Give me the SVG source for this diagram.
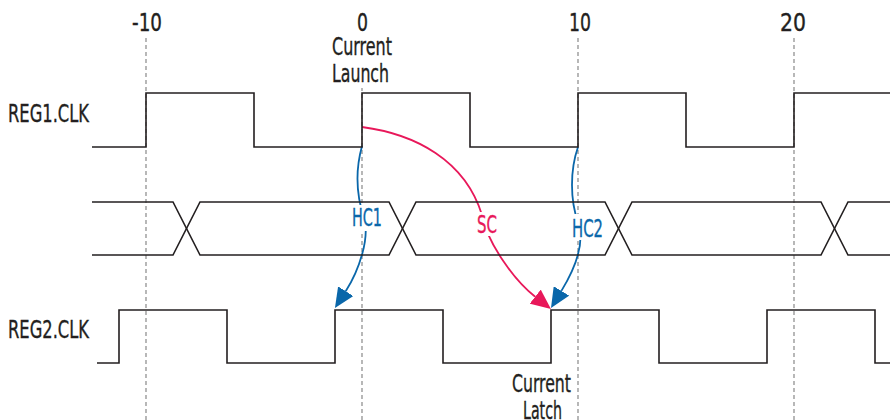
<svg xmlns="http://www.w3.org/2000/svg" width="890" height="420" viewBox="0 0 890 420">
<defs>
<style>
.grid{stroke:#9a9a9a;stroke-width:1.4;stroke-dasharray:4 3;fill:none}
.wave{stroke:#231f20;stroke-width:1.6;fill:none;stroke-linejoin:miter}
.hc{stroke:#0a67aa;stroke-width:1.8;fill:none}
.sc{stroke:#e8185a;stroke-width:1.8;fill:none}
.mask{fill:#ffffff}
text{font-family:"Liberation Sans Narrow","DejaVu Sans Condensed","Liberation Sans",sans-serif;font-size:25px;fill:#231f20;stroke:#231f20;stroke-width:0.35}
.tb{fill:#0a67aa;stroke:#0a67aa}
.tr{fill:#e8185a;stroke:#e8185a}
</style>
<marker id="ab" viewBox="0 0 20 18" markerWidth="20" markerHeight="18" refX="0" refY="9" orient="auto" markerUnits="userSpaceOnUse">
<path d="M0,0 L20,9 L0,18 z" fill="#0a67aa"/>
</marker>
<marker id="ar" viewBox="0 0 20 18" markerWidth="20" markerHeight="18" refX="0" refY="9" orient="auto" markerUnits="userSpaceOnUse">
<path d="M0,0 L20,9 L0,18 z" fill="#e8185a"/>
</marker>
</defs>
<rect width="890" height="420" fill="#ffffff"/>
<g id="gridlines">
<line class="grid" x1="146" y1="38" x2="146" y2="420"/>
<line class="grid" x1="362" y1="38" x2="362" y2="420"/>
<line class="grid" x1="578" y1="38" x2="578" y2="420"/>
<line class="grid" x1="794" y1="38" x2="794" y2="420"/>
</g>
<g id="connectors">
<path id="hc1" class="hc" d="M362,146 C354,175 358,200 364,218 C370,238 359.1,270.2 345.7,291.2" marker-end="url(#ab)"/>
<path id="sc" class="sc" d="M362,127 C415,134 465,160 482,215 C488,245 515.5,281.3 535.2,296.7" marker-end="url(#ar)"/>
<path id="hc2" class="hc" d="M578,147 C570,170 570,200 578,222 C586,244 574.4,269.5 561.4,290.9" marker-end="url(#ab)"/>
</g>
<g id="masks">
<rect class="mask" x="329" y="34" width="66" height="54"/>
<rect class="mask" x="349" y="205" width="36" height="26"/>
<rect class="mask" x="474" y="212" width="26" height="24"/>
<rect class="mask" x="569" y="214" width="37" height="26"/>
</g>
<g id="reg1clk">
<polyline class="wave" points="92,147 146,147 146,93 254,93 254,147 362,147 362,93 470,93 470,147 578,147 578,93 686,93 686,147 794,147 794,93 890,93"/>
<text x="8" y="122" textLength="81" lengthAdjust="spacingAndGlyphs">REG1.CLK</text>
</g>
<g id="data">
<polyline class="wave" points="92,202 173,202 200,255 389,255 416,202 605,202 632,255 821,255 848,202 890,202"/>
<polyline class="wave" points="92,255 173,255 200,202 389,202 416,255 605,255 632,202 821,202 848,255 890,255"/>
</g>
<g id="reg2clk">
<polyline class="wave" points="97,363 119,363 119,310 227,310 227,363 335,363 335,310 443,310 443,363 551,363 551,310 659,310 659,363 767,363 767,310 875,310 875,363 890,363"/>
<text x="8" y="338" textLength="81" lengthAdjust="spacingAndGlyphs">REG2.CLK</text>
</g>
<g id="axis">
<text x="132" y="31" textLength="30" lengthAdjust="spacingAndGlyphs">-10</text>
<text x="357" y="31" textLength="11" lengthAdjust="spacingAndGlyphs">0</text>
<text x="569" y="31" textLength="22" lengthAdjust="spacingAndGlyphs">10</text>
<text x="780" y="31" textLength="26" lengthAdjust="spacingAndGlyphs">20</text>
</g>
<g id="launch-label">
<text x="332" y="55" textLength="60" lengthAdjust="spacingAndGlyphs">Current</text>
<text x="332" y="82" textLength="57" lengthAdjust="spacingAndGlyphs">Launch</text>
</g>
<g id="latch-label">
<text x="512" y="392" textLength="59" lengthAdjust="spacingAndGlyphs">Current</text>
<text x="523" y="419" textLength="39" lengthAdjust="spacingAndGlyphs">Latch</text>
</g>
<g id="path-labels">
<text class="tb" x="352" y="226" textLength="30" lengthAdjust="spacingAndGlyphs">HC1</text>
<text class="tr" x="477" y="233" textLength="20" lengthAdjust="spacingAndGlyphs">SC</text>
<text class="tb" x="572" y="237" textLength="31" lengthAdjust="spacingAndGlyphs">HC2</text>
</g>
</svg>
